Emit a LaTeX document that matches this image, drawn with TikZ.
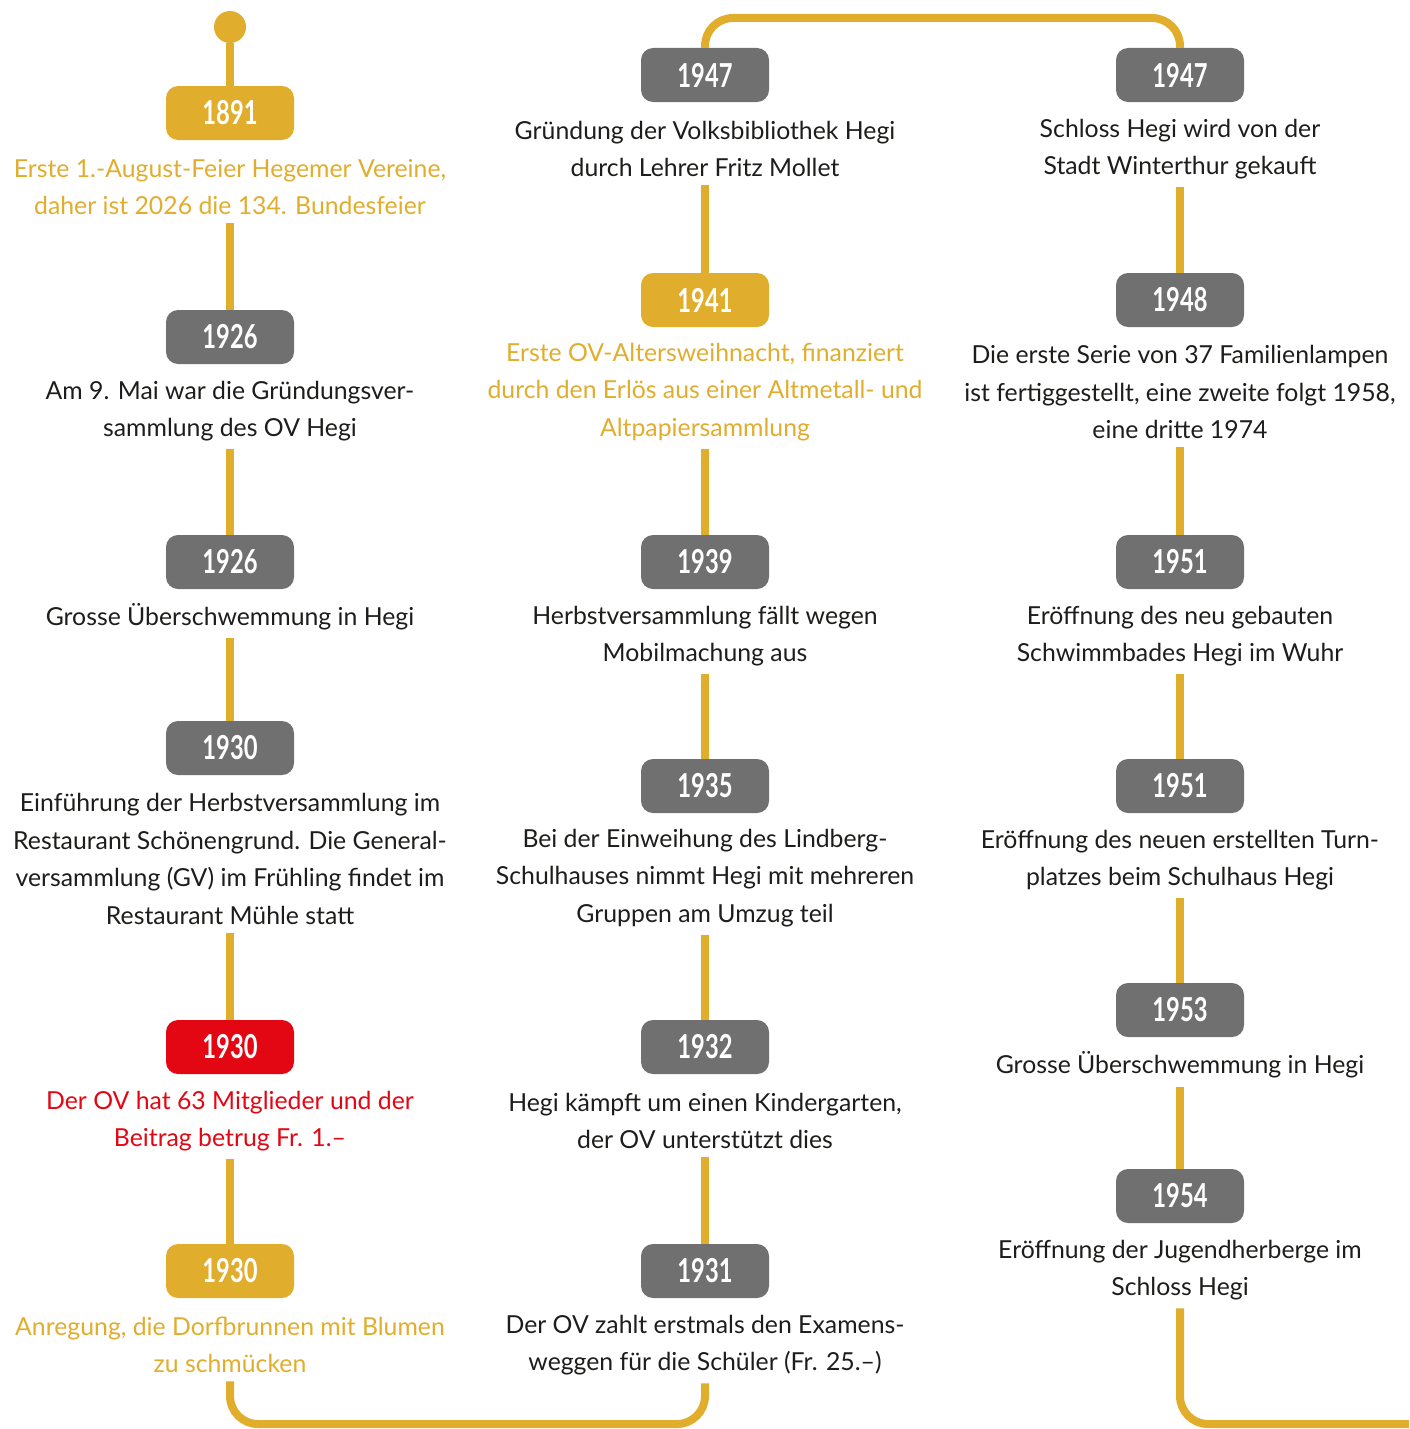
\documentclass[tikz,border=0pt]{standalone}
\usepackage{fontspec}
\setmainfont{Lato}
\newfontfamily\yearfont{Lato}[FakeStretch=0.72]
\definecolor{hgold}{HTML}{E1AD2D}
\definecolor{hgray}{HTML}{707070}
\definecolor{hred}{HTML}{E30613}
\definecolor{htext}{HTML}{1D1D1B}

\begin{document}
\begin{tikzpicture}[x=1pt, y=-1pt,
    yearbox/.style={rounded corners=12pt, fill=hgray, text=white, minimum width=128pt, minimum height=54pt, font=\yearfont\bfseries\fontsize{33}{33}\selectfont},
    goldbox/.style={yearbox, fill=hgold},
    redbox/.style={yearbox, fill=hred},
    event/.style={align=center, text=htext, inner sep=8pt, font=\fontsize{24.8}{37.5}\selectfont},
    link/.style={draw=hgold, line width=8pt}]
    \useasboundingbox (0,0) rectangle (1409,1429);

    \node[circle, fill=hgold, minimum size=32pt, inner sep=0pt] (start) at (230,27) {};
    \node[goldbox] (b1891) at (230,113) {1891};
    \node[event, text=hgold] (t1891) at (230,187) {Erste 1.-August-Feier Hegemer Vereine,\\daher ist 2026 die 134. Bundesfeier};
    \node[yearbox] (b1926a) at (230,337) {1926};
    \node[event] (t1926a) at (230,411) {Am 9. Mai war die Gründungsver-\\sammlung des OV Hegi};
    \node[yearbox] (b1926b) at (230,562) {1926};
    \node[event] (t1926b) at (230,617) {Grosse Überschwemmung in Hegi};
    \node[yearbox] (b1930a) at (230,748) {1930};
    \node[event] (t1930a) at (230,859) {Einführung der Herbstversammlung im\\Restaurant Schönengrund. Die General-\\versammlung (GV) im Frühling findet im\\Restaurant Mühle statt};
    \node[redbox] (b1930b) at (230,1047) {1930};
    \node[event, text=hred] (t1930b) at (230,1121) {Der OV hat 63 Mitglieder und der\\Beitrag betrug Fr. 1.–};
    \node[goldbox] (b1930c) at (230,1271) {1930};
    \node[event, text=hgold] (t1930c) at (230,1345) {Anregung, die Dorfbrunnen mit Blumen\\zu schmücken};

    \node[yearbox] (b1931) at (705,1271) {1931};
    \node[event] (t1931) at (705,1345) {Der OV zahlt erstmals den Examens-\\weggen für die Schüler (Fr. 25.–)};
    \node[yearbox] (b1932) at (705,1047) {1932};
    \node[event] (t1932) at (705,1121) {Hegi kämpft um einen Kindergarten,\\der OV unterstützt dies};
    \node[yearbox] (b1935) at (705,786) {1935};
    \node[event] (t1935) at (705,878) {Bei der Einweihung des Lindberg-\\Schulhauses nimmt Hegi mit mehreren\\Gruppen am Umzug teil};
    \node[yearbox] (b1939) at (705,562) {1939};
    \node[event] (t1939) at (705,636) {Herbstversammlung fällt wegen\\Mobilmachung aus};
    \node[goldbox] (b1941) at (705,300) {1941};
    \node[event, text=hgold] (t1941) at (705,392) {Erste OV-Altersweihnacht, finanziert\\durch den Erlös aus einer Altmetall- und\\Altpapiersammlung};
    \node[yearbox] (b1947a) at (705,75) {1947};
    \node[event] (t1947a) at (705,149) {Gründung der Volksbibliothek Hegi\\durch Lehrer Fritz Mollet};

    \node[yearbox] (b1947b) at (1180,75) {1947};
    \node[event] (t1947b) at (1180,149) {Schloss Hegi wird von der\\Stadt Winterthur gekauft};
    \node[yearbox] (b1948) at (1180,300) {1948};
    \node[event] (t1948) at (1180,392) {Die erste Serie von 37 Familienlampen\\ist fertiggestellt, eine zweite folgt 1958,\\eine dritte 1974};
    \node[yearbox] (b1951a) at (1180,562) {1951};
    \node[event] (t1951a) at (1180,636) {Eröffnung des neu gebauten\\Schwimmbades Hegi im Wuhr};
    \node[yearbox] (b1951b) at (1180,786) {1951};
    \node[event] (t1951b) at (1180,860) {Eröffnung des neuen erstellten Turn-\\platzes beim Schulhaus Hegi};
    \node[yearbox] (b1953) at (1180,1010) {1953};
    \node[event] (t1953) at (1180,1065) {Grosse Überschwemmung in Hegi};
    \node[yearbox] (b1954) at (1180,1196) {1954};
    \node[event] (t1954) at (1180,1270) {Eröffnung der Jugendherberge im\\Schloss Hegi};

    \coordinate (bottomturn) at (705,1424);
    \coordinate (topturn) at (1180,18);
    \coordinate (endright) at (1409,1424);

    \draw[link] (start) -- (b1891);
    \draw[link] (t1891) -- (b1926a);
    \draw[link] (t1926a) -- (b1926b);
    \draw[link] (t1926b) -- (b1930a);
    \draw[link] (t1930a) -- (b1930b);
    \draw[link] (t1930b) -- (b1930c);
    \draw[link, rounded corners=28pt] (t1930c.south) |- (bottomturn) -- (t1931.south);
    \draw[link] (t1932) -- (b1931);
    \draw[link] (b1932) -- (t1935);
    \draw[link] (b1935) -- (t1939);
    \draw[link] (b1939) -- (t1941);
    \draw[link] (b1941) -- (t1947a);
    \draw[link, rounded corners=28pt] (b1947a.north) |- (topturn) -- (b1947b.north);
    \draw[link] (t1947b) -- (b1948);
    \draw[link] (t1948) -- (b1951a);
    \draw[link] (t1951a) -- (b1951b);
    \draw[link] (t1951b) -- (b1953);
    \draw[link] (t1953) -- (b1954);
    \draw[link, rounded corners=28pt] (t1954.south) |- (endright);
\end{tikzpicture}
\end{document}
